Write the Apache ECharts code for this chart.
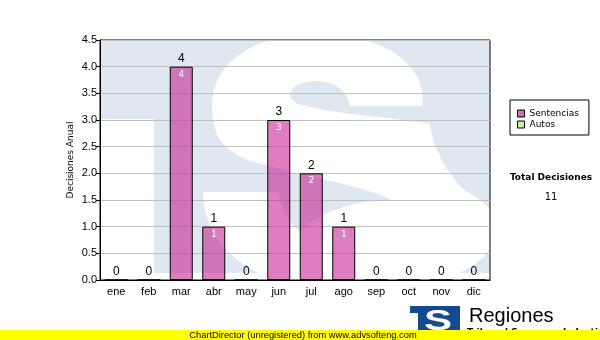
<!DOCTYPE html>
<html>
<head>
<meta charset="utf-8">
<script src="https://cdn.jsdelivr.net/npm/echarts@6/dist/echarts.min.js"></script>
<style>html,body{margin:0;padding:0;background:#fff;}#c{width:600px;height:340px;}</style>
</head>
<body>
<div id="c"></div>
<script>
var categories = ['ene','feb','mar','abr','may','jun','jul','ago','sep','oct','nov','dic'];
var sentencias = [0,0,4,1,0,3,2,1,0,0,0,0];
var autos = [0,0,0,0,0,0,0,0,0,0,0,0];
var yTicks = {min:0, max:4.5, interval:0.5};
var totalLabel = 'Total Decisiones';
var totalValue = '11';

var chart = echarts.init(document.getElementById('c'), null, {renderer:'canvas'});
var wmBlue = '#dfe8f1';
// watermark "S" outline (decoration only): start point then segments (L: line, C: cubic)
var sStart = [350,106];
var sSegs = [
  ['L',422,106],
  ['C',428,70,390,34,318,34],
  ['C',250,34,212,65,212,105],
  ['C',212,135,222,150,250,161],
  ['C',300,175,360,185,392,200],
  ['C',350,200,315,215,300,232],
  ['C',290,225,280,205,278,192],
  ['L',203,192],
  ['C',203,250,260,292,350,292],
  ['C',440,292,497,265,497,228],
  ['C',497,205,470,195,462,188],
  ['C',445,170,432,145,430,124],
  ['C',400,118,330,114,298,104],
  ['C',284,98,288,82,315,81],
  ['C',337,81,347,92,350,106]
];
function outline(start, segs){
  var pts=[start.slice()], cur=start.slice();
  segs.forEach(function(s){
    if(s[0]==='L'){ cur=[s[1],s[2]]; pts.push(cur); }
    else {
      var p0=cur, p1=[s[1],s[2]], p2=[s[3],s[4]], p3=[s[5],s[6]];
      for(var i=1;i<=20;i++){
        var t=i/20, u=1-t;
        pts.push([u*u*u*p0[0]+3*u*u*t*p1[0]+3*u*t*t*p2[0]+t*t*t*p3[0],
                  u*u*u*p0[1]+3*u*u*t*p1[1]+3*u*t*t*p2[1]+t*t*t*p3[1]]);
      }
      cur=p3;
    }
  });
  return pts;
}
var option = {
  animation:false,
  backgroundColor:'#fff',
  textStyle:{fontFamily:'Liberation Sans'},
  grid:{left:100, top:40, width:390, height:240, show:true, borderColor:'#000', borderWidth:1, backgroundColor:'transparent', containLabel:false},
  legend:{
    orient:'vertical', left:510, top:100,
    padding:[8,10,5,7], itemGap:0, itemWidth:7, itemHeight:7,
    borderColor:'#000', borderWidth:1, icon:'rect',
    textStyle:{fontFamily:'DejaVu Sans', fontSize:9, color:'#000', lineHeight:11},
    data:[
      {name:'Sentencias', itemStyle:{color:'#d070b8', borderColor:'#000', borderWidth:1}},
      {name:'Autos', itemStyle:{color:'#ccee99', borderColor:'#000', borderWidth:1}}
    ]
  },
  xAxis:{
    type:'category', data:categories,
    axisLine:{lineStyle:{color:'#000', width:1}},
    axisTick:{alignWithLabel:true, length:4, lineStyle:{color:'#000'}},
    axisLabel:{color:'#000', fontSize:11, margin:6, fontFamily:'Liberation Sans'},
    splitLine:{show:false}
  },
  yAxis:{
    type:'value', min:yTicks.min, max:yTicks.max, interval:yTicks.interval,
    name:'Decisiones Anual', nameLocation:'middle', nameRotate:90, nameGap:25, nameMoveOverlap:false,
    nameTextStyle:{fontFamily:'DejaVu Sans', fontSize:9, color:'#000'},
    axisLine:{show:true, lineStyle:{color:'#000'}},
    axisTick:{show:true, length:4, lineStyle:{color:'#000'}},
    axisLabel:{color:'#000', fontSize:11, margin:3, fontFamily:'Liberation Sans',
      formatter:function(v){return v.toFixed(1);}},
    splitLine:{show:true, lineStyle:{color:'#c0c0c0', width:1}}
  },
  series:[
    {name:'Sentencias', type:'bar', data:sentencias, barWidth:23, barGap:'-100%',
      itemStyle:{color:'rgba(200,40,150,0.6)', borderColor:'#000', borderWidth:1},
      label:{show:true, position:'top', distance:2, color:'#000', fontSize:12, fontFamily:'Liberation Sans'}
    },
    {name:'inner', type:'bar', data:sentencias, barWidth:23, barGap:'-100%',
      itemStyle:{color:'rgba(0,0,0,0)', borderWidth:0}, silent:true,
      label:{show:true, position:'insideTop', distance:3, color:'#fff', fontSize:9, fontFamily:'DejaVu Sans',
        formatter:function(p){return p.value>0 ? String(p.value) : '';}}
    },
    {name:'Autos', type:'bar', data:autos, barWidth:23, barGap:'-100%',
      itemStyle:{color:'#ccee99', borderWidth:0}}
  ],
  graphic:[
    {type:'rect', z:-10, shape:{x:100, y:40, width:390, height:233}, style:{fill:wmBlue}},
    {type:'rect', z:-9, shape:{x:100, y:119, width:54, height:161}, style:{fill:'#fff'}},
    {type:'polygon', z:-8, shape:{points:outline(sStart, sSegs)}, style:{fill:'#fff'}},
    {type:'rect', z:-7, shape:{x:100, y:0, width:390, height:40}, style:{fill:'#fff'}},
    {type:'rect', z:-7, shape:{x:100, y:280, width:390, height:60}, style:{fill:'#fff'}},
    {type:'rect', z:-7, shape:{x:490, y:0, width:110, height:340}, style:{fill:'#fff'}},
    {type:'rect', z:-7, shape:{x:0, y:0, width:100, height:340}, style:{fill:'#fff'}},
    {type:'text', z:10, x:551, y:178, style:{text:totalLabel, font:'bold 9px "DejaVu Sans"', fill:'#000', align:'center', verticalAlign:'middle'}},
    {type:'text', z:10, x:551, y:197, style:{text:totalValue, font:'10px "DejaVu Sans"', fill:'#000', align:'center', verticalAlign:'middle'}},
    {type:'rect', z:50, shape:{x:410, y:306, width:50, height:30}, style:{fill:'#134b8e'}},
    {type:'rect', z:51, shape:{x:410, y:313, width:8, height:23}, style:{fill:'#fff'}},
    {type:'text', z:52, x:438, y:322, scaleX:1.4, style:{text:'S', font:'bold 30px "Liberation Sans"', fill:'#fff', align:'center', verticalAlign:'middle'}},
    {type:'text', z:52, x:469, y:316, style:{text:'Regiones', font:'20px "Liberation Sans"', fill:'#000', align:'left', verticalAlign:'middle'}},
    {type:'text', z:52, x:467, y:328.5, style:{text:'Tribunal Supremo de Justicia', font:'bold 9px "DejaVu Sans"', fill:'#000', align:'left', verticalAlign:'top'}},
    {type:'rect', z:60, shape:{x:0, y:330, width:600, height:10}, style:{fill:'#ffff00'}},
    {type:'text', z:61, x:303, y:335, style:{text:'ChartDirector (unregistered) from www.advsofteng.com', font:'9.3px "Liberation Sans"', fill:'#000', align:'center', verticalAlign:'middle'}}
  ]
};
chart.setOption(option);
</script>
</body>
</html>
